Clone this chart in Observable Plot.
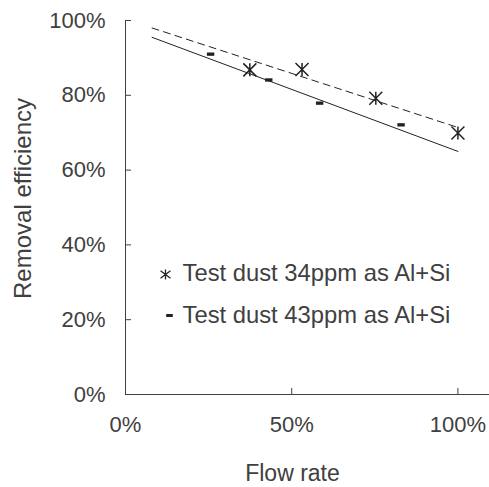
<!DOCTYPE html>
<html>
<head>
<meta charset="utf-8">
<script src="https://cdn.jsdelivr.net/npm/d3@7"></script>
<script src="https://cdn.jsdelivr.net/npm/@observablehq/plot@0.6"></script>
<style>
  html, body { margin: 0; padding: 0; background: #fff; }
  svg { font-family: "Liberation Sans", Arial, sans-serif; }
</style>
</head>
<body>
<div id="chart"></div>
<script>
// Data
const seriesNames = ["Test dust 34ppm as Al+Si", "Test dust 43ppm as Al+Si"];
const flowA = [0.374, 0.531, 0.753, 1.0];
const effA  = [0.868, 0.869, 0.792, 0.699];
const flowB = [0.256, 0.431, 0.584, 0.829];
const effB  = [0.910, 0.841, 0.779, 0.721];
const trendFlow = [0.08, 1.0];
const trendA = [0.980, 0.714];   // dashed trend, series A
const trendB = [0.955, 0.650];   // solid trend, series B
const xTicks = [0, 0.5, 1];
const yTicks = [0, 0.2, 0.4, 0.6, 0.8, 1];
const xLabel = "Flow rate";
const yLabel = "Removal efficiency";

const A = flowA.map((x, i) => ({x, y: effA[i]}));
const B = flowB.map((x, i) => ({x, y: effB[i]}));
const TA = trendFlow.map((x, i) => ({x, y: trendA[i]}));
const TB = trendFlow.map((x, i) => ({x, y: trendB[i]}));

const rad = size => Math.sqrt(size / Math.PI);
// Excel-like star marker: X plus vertical bar
const star = {
  draw(ctx, size) {
    const r = rad(size);
    ctx.moveTo(-r, -r); ctx.lineTo(r, r);
    ctx.moveTo(-r, r); ctx.lineTo(r, -r);
    ctx.moveTo(0, -r); ctx.lineTo(0, r);
  }
};
const starSmall = {
  draw(ctx, size) {
    const r = rad(size);
    ctx.moveTo(-r, -r * 0.75); ctx.lineTo(r, r * 0.75);
    ctx.moveTo(-r, r * 0.75); ctx.lineTo(r, -r * 0.75);
    ctx.moveTo(0, -r); ctx.lineTo(0, r);
  }
};
// Short dash marker
const dash = {
  draw(ctx, size) {
    const r = rad(size);
    ctx.rect(-r, -r * 0.45, 2 * r, r * 0.9);
  }
};

const W = 489, H = 487, ML = 125, MR = 0, MT = 20, MB = 93;
const tickLen = 6;
const textColor = "#404040";
const axisColor = "#404040";

const chart = Plot.plot({
  width: W,
  height: H,
  marginLeft: ML,
  marginRight: MR,
  marginTop: MT,
  marginBottom: MB,
  style: {fontSize: "22px", color: textColor, fontFamily: "Liberation Sans, Arial, sans-serif", background: "#fff"},
  x: {domain: [0, 1.095], axis: null},
  y: {domain: [0, 1], axis: null},
  marks: [
    Plot.ruleY([0], {stroke: axisColor, strokeWidth: 1}),
    Plot.ruleX([0], {stroke: axisColor, strokeWidth: 1}),
    Plot.tickX(xTicks, {x: d => d, insetTop: H - MT - MB - tickLen, stroke: axisColor, strokeWidth: 1}),
    Plot.tickY(yTicks, {y: d => d, insetRight: W - ML - MR - tickLen, stroke: axisColor, strokeWidth: 1}),
    Plot.axisX(xTicks, {tickSize: 0, tickPadding: 22, tickFormat: d3.format(".0%"), label: null, fill: textColor, fontSize: 22}),
    Plot.axisY(yTicks, {tickSize: 0, tickPadding: 20, tickFormat: d3.format(".0%"), label: null, fill: textColor, fontSize: 22}),
    Plot.line(TA, {x: "x", y: "y", stroke: "#222", strokeWidth: 1, strokeDasharray: "7,5"}),
    Plot.line(TB, {x: "x", y: "y", stroke: "#222", strokeWidth: 1}),
    Plot.dot(A, {x: "x", y: "y", symbol: star, r: 6.5, stroke: "#222", strokeWidth: 1.5, fill: "none"}),
    Plot.dot(B, {x: "x", y: "y", symbol: dash, r: 3.7, fill: "#222", stroke: "none"}),
    // Legend
    Plot.dot([seriesNames[0]], {frameAnchor: "bottom-left", dx: 40, dy: -120, symbol: starSmall, r: 5, stroke: "#222", strokeWidth: 1.3, fill: "none"}),
    Plot.dot([seriesNames[1]], {frameAnchor: "bottom-left", dx: 44, dy: -79, symbol: dash, r: 3.3, fill: "#222", stroke: "none"}),
    Plot.text([seriesNames[0]], {text: d => d, frameAnchor: "bottom-left", dx: 57, dy: -121, textAnchor: "start", lineAnchor: "middle", fill: textColor, fontSize: 23.8}),
    Plot.text([seriesNames[1]], {text: d => d, frameAnchor: "bottom-left", dx: 57, dy: -79, textAnchor: "start", lineAnchor: "middle", fill: textColor, fontSize: 23.8}),
    // Axis titles
    Plot.text([yLabel], {text: d => d, frameAnchor: "left", dx: -102, dy: -9, rotate: -90, textAnchor: "middle", lineAnchor: "middle", fill: textColor, fontSize: 24}),
    Plot.text([xLabel], {text: d => d, frameAnchor: "bottom", dx: -15, dy: 79, textAnchor: "middle", lineAnchor: "middle", fill: textColor, fontSize: 23})
  ]
});
document.getElementById("chart").appendChild(chart);
</script>
</body>
</html>
